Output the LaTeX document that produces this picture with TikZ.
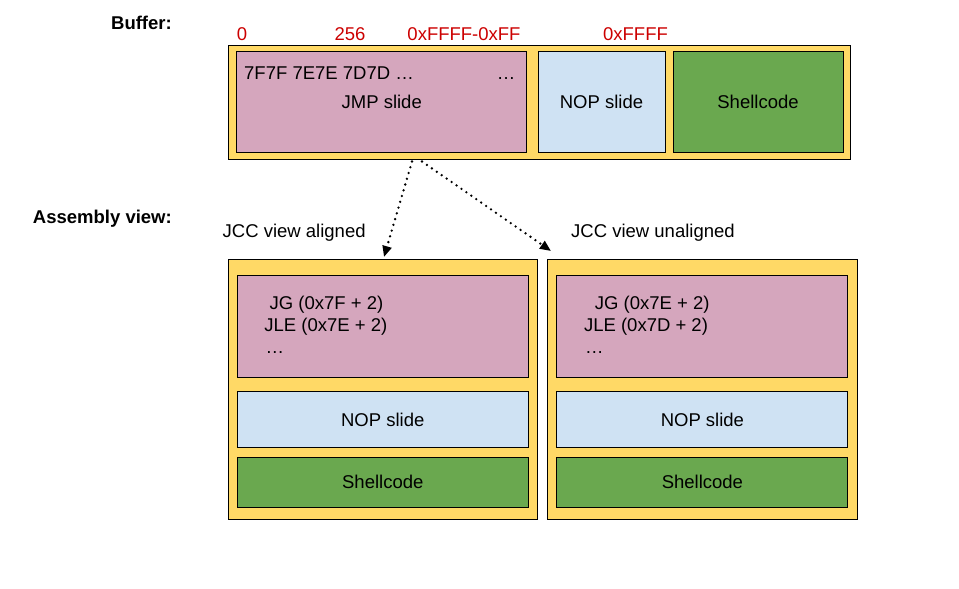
\documentclass[tikz,border=0pt]{standalone}
\usepackage{fontspec}
\setmainfont{Liberation Sans}
\usetikzlibrary{arrows.meta}
\definecolor{bufyellow}{HTML}{FFD966}
\definecolor{jmppink}{HTML}{D5A6BD}
\definecolor{nopblue}{HTML}{CFE2F3}
\definecolor{shellgreen}{HTML}{6AA84F}
\definecolor{offred}{HTML}{CC0000}
\begin{document}
\begin{tikzpicture}
  [x=1pt,y=-1pt,font=\fontsize{18.5}{22}\selectfont,every node/.style={inner sep=0pt},
   block/.style={draw,line width=1pt},
   outer/.style={block,fill=bufyellow},
   jmp/.style={block,fill=jmppink},
   nop/.style={block,fill=nopblue},
   shell/.style={block,fill=shellgreen},
   offset/.style={text=offred,anchor=base},
   title/.style={font=\bfseries\fontsize{18.5}{22}\selectfont,anchor=base east},
   jump/.style={line width=2.6pt,line cap=round,dash pattern=on 0pt off 6pt,
     -{Triangle[length=11pt,width=9pt]}}]
  \useasboundingbox (0,0) rectangle (959,589);

  \node[title] (buflabel) at (172,29.8) {Buffer:};
  \node[title] (asmlabel) at (172,223.3) {Assembly view:};

  % buffer row
  \node[outer,minimum width=622pt,minimum height=114pt] (buf) at (539,102) {};
  \node[jmp,minimum width=290pt,minimum height=101pt] (jmp) at (381.75,102) {JMP slide};
  \node[nop,minimum width=127pt,minimum height=101pt] (nop) at (601.5,102) {NOP slide};
  \node[shell,minimum width=170pt,minimum height=101pt] (shell) at (758,102) {Shellcode};
  \node[anchor=base west] (bytes) at (244,79) {7F7F 7E7E 7D7D …};
  \node[anchor=base] (bytesend) at (506,79) {…};

  \node[offset] (o1) at (242,40.6) {0};
  \node[offset] (o2) at (350,40.6) {256};
  \node[offset] (o3) at (464,40.6) {0xFFFF-0xFF};
  \node[offset] (o4) at (635.5,40.6) {0xFFFF};

  \node[anchor=base west] (alignedlabel) at (222.5,237.5) {JCC view aligned};
  \node[anchor=base west] (unalignedlabel) at (571,237.5) {JCC view unaligned};

  % assembly views
  \foreach \name/\cx/\jg/\jle/\gx in {al/382.75/7F/7E/41.5,un/702.4/7E/7D/47} {
    \node[outer,minimum width=309.5pt,minimum height=260pt] (\name-outer) at (\cx,389) {};
    \node[jmp,minimum width=291pt,minimum height=102pt] (\name-jmp) at (\cx,326.5) {};
    \node[nop,minimum width=291pt,minimum height=56pt] (\name-nop) at (\cx,419.5) {NOP slide};
    \node[shell,minimum width=291pt,minimum height=50pt] (\name-shell) at (\cx,482.3) {Shellcode};
    \node[anchor=base west] (\name-jg) at ({\cx-154.75+\gx},309.6) {JG (0x\jg{} + 2)};
    \node[anchor=base west] (\name-jle) at ({\cx-154.75+36.2},331.6) {JLE (0x\jle{} + 2)};
    \node[anchor=base west] (\name-dots) at ({\cx-154.75+37.3},353) {…};
  }

  \coordinate (a1) at (412,161.5);
  \coordinate (a2) at (384,257);
  \coordinate (b1) at (422,161.5);
  \coordinate (b2) at (551,251);
  \foreach \from/\to in {a1/a2,b1/b2}
    \draw[jump] (\from) -- (\to);

\end{tikzpicture}
\end{document}
